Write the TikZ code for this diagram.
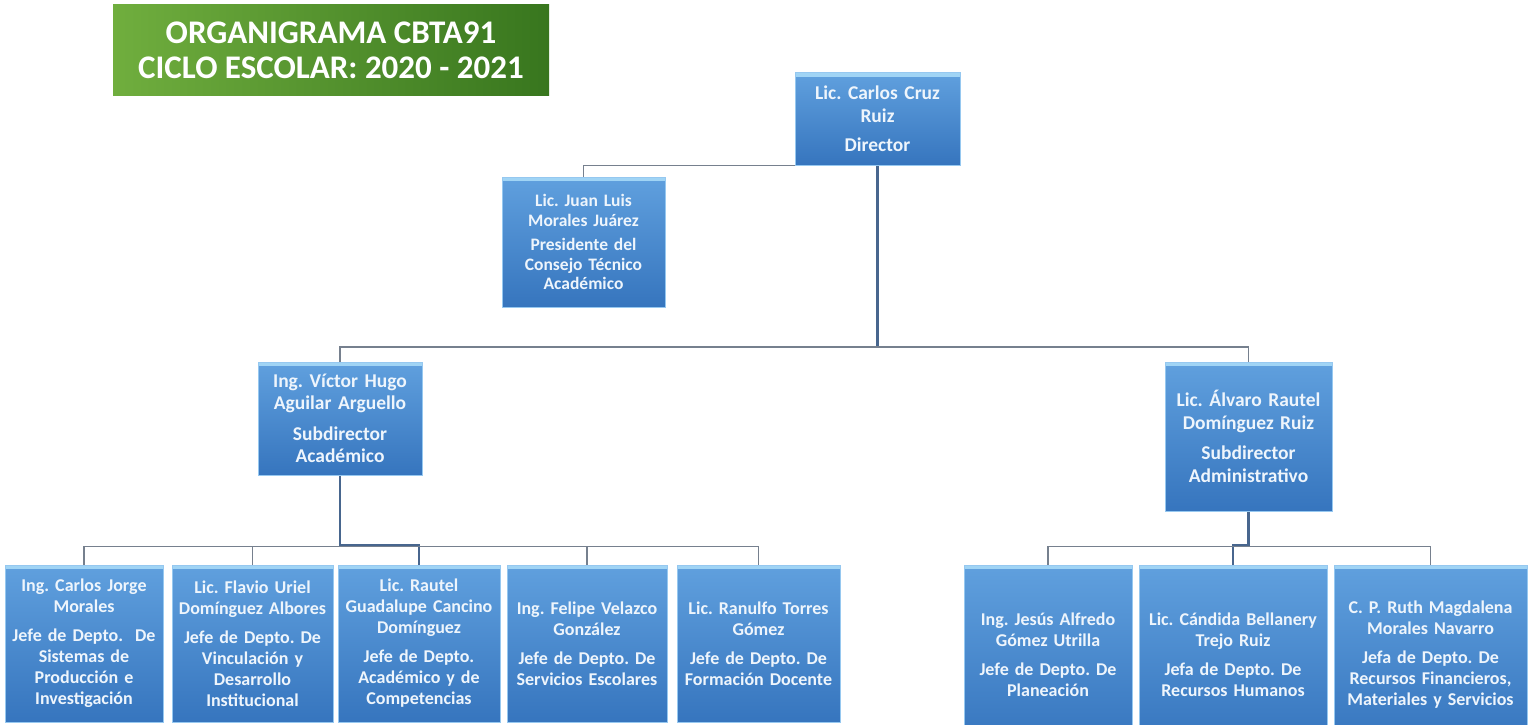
\documentclass[tikz,border=0pt]{standalone}
\usepackage{fontspec}
\setmainfont{Carlito}
\usepackage{tikz}
\usetikzlibrary{backgrounds}
\usepackage{color}
\frenchspacing

\definecolor{titlelight}{RGB}{112,174,62}
\definecolor{titledark}{RGB}{56,118,30}
\definecolor{boxtop}{RGB}{96,160,222}
\definecolor{boxbot}{RGB}{54,117,190}
\definecolor{boxrim}{RGB}{150,200,240}
\definecolor{boxhigh}{RGB}{160,212,245}
\definecolor{boxtext}{RGB}{238,245,252}
\definecolor{lineblue}{RGB}{72,102,142}
\definecolor{linegray}{RGB}{118,128,142}

\tikzset{
  box/.style={draw=boxrim, line width=1pt, top color=boxtop, bottom color=boxbot,
    text=boxtext, align=center, inner sep=0pt,
    path picture={\fill[boxhigh] (path picture bounding box.north west)
      rectangle ([yshift=-4pt]path picture bounding box.north east);}},
  bigbox/.style={box, font=\bfseries\fontsize{19.5}{22.5}\selectfont},
  smallbox/.style={box, font=\bfseries\fontsize{17.5}{19.5}\selectfont},
  jefebox/.style={box, font=\bfseries\fontsize{18}{21}\selectfont},
  conn/.style={draw=lineblue, line width=2.4pt},
  bus/.style={draw=linegray, line width=1.5pt},
}

\begin{document}
\begin{tikzpicture}[x=1pt,y=-1pt]
  % Sizes
  \pgfmathsetmacro{\drop}{18}
  \pgfmathsetmacro{\jefeh}{179}
  \useasboundingbox (0,0) rectangle (1531,725);

  % title
  \node[left color=titlelight, right color=titledark, text=white, align=center,
        inner sep=0pt, minimum width=436pt, minimum height=90pt,
        font=\bfseries\fontsize{33}{35}\selectfont] (title) at (331,50)
        {ORGANIGRAMA CBTA91\\CICLO ESCOLAR: 2020 - 2021};

  % boxes
  \node[bigbox, minimum width=165pt, minimum height=92pt, text width=157pt] (dir) at (877.5,119)
        {Lic. Carlos Cruz\\Ruiz\\[7pt]Director};
  \node[smallbox, minimum width=163pt, minimum height=130pt, text width=155pt] (cons) at (583.5,242)
        {Lic. Juan Luis\\Morales Juárez\\[5pt]Presidente del\\Consejo Técnico\\Académico};
  \node[bigbox, minimum width=164pt, minimum height=113pt, text width=158pt] (acad) at (340,418.5)
        {Ing. Víctor Hugo\\Aguilar Arguello\\[8pt]Subdirector\\Académico};
  \node[bigbox, minimum width=167pt, minimum height=149pt, text width=161pt] (adm) at (1248.5,436.5)
        {Lic. Álvaro Rautel\\Domínguez Ruiz\\[8pt]Subdirector\\Administrativo};

  % jefes academicos
  \node[jefebox, minimum width=158pt, minimum height=157pt, text width=154pt] (j1) at (84,643.5)
        {Ing. Carlos Jorge\\Morales\\[8pt]Jefe de Depto.~ De\\Sistemas de\\Producción e\\Investigación};
  \node[jefebox, minimum width=161pt, minimum height=157pt, text width=157pt] (j2) at (252.5,643.5)
        {Lic. Flavio Uriel\\Domínguez Albores\\[8pt]Jefe de Depto. De\\Vinculación y\\Desarrollo\\Institucional};
  \node[jefebox, minimum width=162pt, minimum height=157pt, text width=158pt] (j3) at (419,643.5)
        {Lic. Rautel\\Guadalupe Cancino\\Domínguez\\[8pt]Jefe de Depto.\\Académico y de\\Competencias};
  \node[jefebox, minimum width=160pt, minimum height=157pt, text width=156pt] (j4) at (587,643.5)
        {Ing. Felipe Velazco\\González\\[8pt]Jefe de Depto. De\\Servicios Escolares};
  \node[jefebox, minimum width=163pt, minimum height=157pt, text width=159pt] (j5) at (758.5,643.5)
        {Lic. Ranulfo Torres\\Gómez\\[8pt]Jefe de Depto. De\\Formación Docente};

  % jefes administrativos
  \node[jefebox, minimum width=168pt, minimum height=\jefeh pt, text width=162pt] (jA) at (1048,654.5)
        {Ing. Jesús Alfredo\\Gómez Utrilla\\[8pt]Jefe de Depto. De\\Planeación};
  \node[jefebox, minimum width=188pt, minimum height=\jefeh pt, text width=182pt] (jB) at (1233,654.5)
        {Lic. Cándida Bellanery\\Trejo Ruiz\\[8pt]Jefa de Depto. De\\Recursos Humanos};
  \node[jefebox, minimum width=193pt, minimum height=\jefeh pt, text width=187pt] (jC) at (1430.5,654.5)
        {C. P. Ruth Magdalena\\Morales Navarro\\[8pt]Jefa de Depto. De\\Recursos Financieros,\\Materiales y Servicios};

  % draw lines
  \coordinate (hub) at (877.5,347);
  \begin{scope}[on background layer]
    \draw[conn] (dir.south) -- (hub);
    \draw[bus] (acad.north) |- (hub) -| (adm.north);
    \draw[bus] (cons.north) |- (dir.south);
    \draw[conn] (acad.south) -- ++(0,70) -| (j3.north);
    \draw[bus] (j1.north) -- ++(0,-\drop) -| (j5.north);
    \foreach \n in {j2,j4}
      \draw[bus] (\n.north) -- ++(0,-\drop);
    \draw[conn] (adm.south) -- ++(0,34) -| (jB.north);
    \draw[bus] (jA.north) -- ++(0,-\drop) -| (jC.north);
  \end{scope}
\end{tikzpicture}
\end{document}
